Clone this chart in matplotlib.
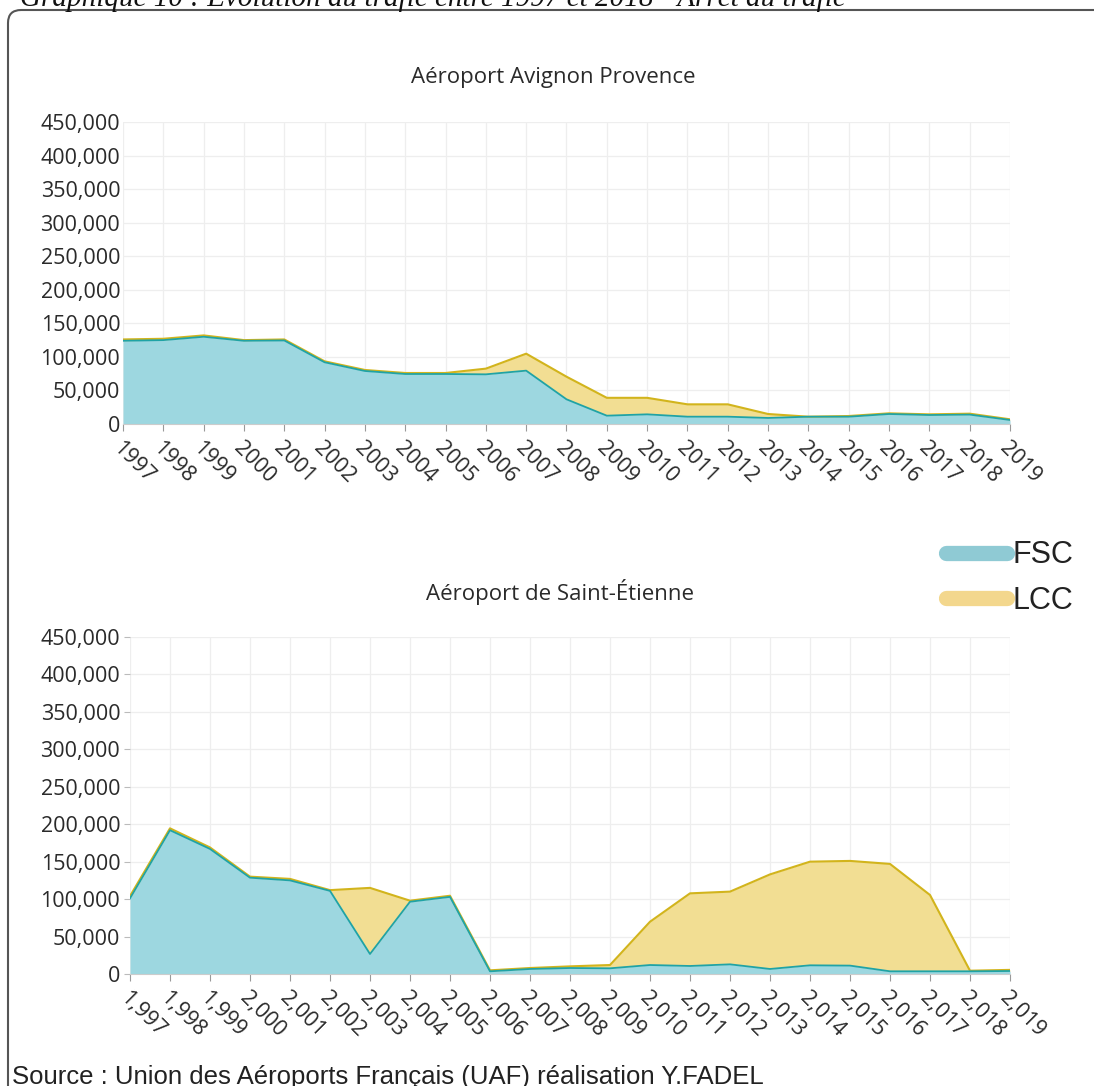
import matplotlib.pyplot as plt
from matplotlib.patches import FancyBboxPatch
from matplotlib.lines import Line2D

# donnees
annees = list(range(1997, 2020))

avignon_fsc = [124000, 125000, 130000, 124000, 124500, 92000, 79000, 74500, 74500, 74000,
               79500, 36800, 12400, 14400, 10900, 10900, 9000, 10900, 10900, 14900,
               13400, 14000, 6000]
avignon_lcc = [2000, 2000, 2000, 1000, 1500, 1400, 1500, 1500, 1500, 8500,
               25300, 33700, 26600, 24600, 18400, 18400, 5900, 0, 1000, 1000,
               1000, 1400, 1000]

stetienne_fsc = [101000, 192000, 167000, 128600, 125000, 111000, 26700, 96500, 103000, 3600,
                 6700, 8000, 7600, 12000, 10700, 12900, 6700, 11600, 11200, 3600,
                 3600, 3600, 4000]
stetienne_lcc = [3000, 2500, 2000, 1400, 2000, 1000, 88300, 1400, 1500, 1300,
                 1300, 2200, 4400, 57800, 97000, 97100, 126300, 138400, 139800, 143400,
                 101900, 800, 1500]

titres = ["Aéroport Avignon Provence", "Aéroport de Saint-Étienne"]
yticks = [0, 50000, 100000, 150000, 200000, 250000, 300000, 350000, 400000, 450000]

fill_fsc = "#9dd7e0"
line_fsc = "#1fa3a6"
fill_lcc = "#f2de93"
line_lcc = "#d2b41c"

plt.rcParams["font.family"] = ["Open Sans", "DejaVu Sans"]

W, H = 1094, 1086
fig = plt.figure(figsize=(W / 100, H / 100), dpi=100)

# cadre arrondi
cadre = FancyBboxPatch((8 / W, -0.05), 1.2, (H - 10) / H + 0.05,
                       boxstyle="round,pad=0,rounding_size=0.012",
                       transform=fig.transFigure, fill=False,
                       edgecolor="#555555", linewidth=1.5)
fig.patches.append(cadre)

fig.text(20 / W, 1 - 6 / H, "Graphique 10 : Évolution du trafic entre 1997 et 2018 - Arrêt du trafic",
         family=["Liberation Serif", "DejaVu Serif"], style="italic", fontsize=21,
         ha="left", va="baseline", color="#111111")

fig.text(12 / W, 1 - 1084 / H, "Source : Union des Aéroports Français (UAF) réalisation Y.FADEL",
         family=["Liberation Sans", "DejaVu Sans"], fontsize=18.5,
         ha="left", va="baseline", color="#222222")

positions = [
    [123 / W, (H - 424) / H, (1010 - 123) / W, (424 - 122) / H],
    [130 / W, (H - 974) / H, (1010 - 130) / W, (974 - 637) / H],
]
titres_pos = [(553, 77), (560, 592)]
donnees = [(avignon_fsc, avignon_lcc), (stetienne_fsc, stetienne_lcc)]

for k in range(2):
    ax = fig.add_axes(positions[k])
    fsc, lcc = donnees[k]
    total = [a + b for a, b in zip(fsc, lcc)]

    ax.fill_between(annees, 0, fsc, color=fill_fsc, linewidth=0, zorder=2)
    ax.fill_between(annees, fsc, total, color=fill_lcc, linewidth=0, zorder=2)
    ax.plot(annees, total, color=line_lcc, linewidth=1.5, zorder=3)
    ax.plot(annees, fsc, color=line_fsc, linewidth=1.3, zorder=4)

    ax.set_xlim(1997, 2019)
    ax.set_ylim(0, 450000)
    ax.set_yticks(yticks)
    ax.set_yticklabels(["{:,}".format(v) for v in yticks])
    ax.set_xticks(annees)
    if k == 0:
        ax.set_xticklabels([str(a) for a in annees])
        ax.tick_params(axis="y", length=0, pad=2)
    else:
        ax.set_xticklabels(["{:,}".format(a) for a in annees])
        ax.tick_params(axis="y", length=4, color="#bbbbbb", pad=3)
    ax.tick_params(axis="x", length=5, color="#999999", pad=5)
    for lab in ax.get_xticklabels():
        lab.set_rotation(-45)
        lab.set_ha("left")
        lab.set_va("top")
        lab.set_rotation_mode("anchor")
    ax.tick_params(labelsize=15.5, labelcolor="#2a2a2a")

    ax.grid(True, color="#eeeeee", linewidth=0.9, zorder=0)
    ax.set_axisbelow(True)
    for s in ["top", "right", "left"]:
        ax.spines[s].set_visible(False)
    ax.spines["bottom"].set_color("#cccccc")
    ax.spines["bottom"].set_linewidth(0.8)

    tx, ty = titres_pos[k]
    fig.text(tx / W, 1 - ty / H, titres[k], fontsize=16, color="#2a2a2a",
             ha="center", va="center")

# legende
handles = [Line2D([0], [0], color="#8fcad4", linewidth=11, solid_capstyle="round"),
           Line2D([0], [0], color="#f3d78d", linewidth=11, solid_capstyle="round")]
fig.legend(handles, ["FSC", "LCC"], loc="center left",
           bbox_to_anchor=(918 / W, 1 - 578 / H), frameon=False,
           prop={"family": ["Liberation Sans", "DejaVu Sans"], "size": 22},
           handlelength=2.0, handletextpad=0.2, labelspacing=0.5, labelcolor="#222222")

fig.savefig("out.png", dpi=100)
